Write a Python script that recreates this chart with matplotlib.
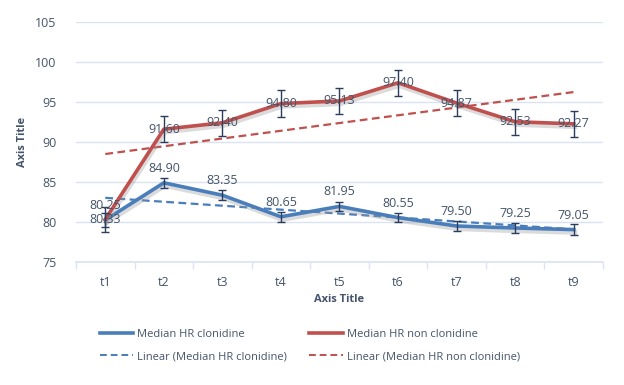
import numpy as np
import matplotlib
matplotlib.use("Agg")
import matplotlib.pyplot as plt
import matplotlib.patheffects as pe
from matplotlib.lines import Line2D

# data
times = ["t1", "t2", "t3", "t4", "t5", "t6", "t7", "t8", "t9"]
hr_clon = [80.25, 84.90, 83.35, 80.65, 81.95, 80.55, 79.50, 79.25, 79.05]
err_clon = [0.9, 0.6, 0.6, 0.6, 0.6, 0.6, 0.6, 0.6, 0.7]
hr_non = [80.33, 91.60, 92.40, 94.80, 95.13, 97.40, 94.87, 92.53, 92.27]
err_non = [1.6, 1.6, 1.6, 1.65, 1.6, 1.6, 1.6, 1.6, 1.6]

blue = "#4A7EBB"
red = "#C0504D"
txt = "#44546A"
grid = "#D9E3F2"
plt.rcParams["font.family"] = ["Open Sans", "DejaVu Sans"]

x = np.arange(len(times))

fig = plt.figure(figsize=(6.24, 3.85), dpi=100)
ax = fig.add_axes([0.1218, 0.3195, 0.8445, 0.6234])

shadow = [pe.SimpleLineShadow(offset=(0.8, -2.0), shadow_color="#9A9A9A", alpha=0.35, linewidth=3.5), pe.Normal()]

# main lines
ax.plot(x, hr_clon, color=blue, lw=2.6, zorder=4, path_effects=shadow, solid_joinstyle="round")
ax.plot(x, hr_non, color=red, lw=2.6, zorder=4, path_effects=shadow, solid_joinstyle="round")

# error bars
for y, e in [(hr_clon, err_clon), (hr_non, err_non)]:
    ax.errorbar(x, y, yerr=e, fmt="none", ecolor="#2B3D5C", elinewidth=1, capsize=3, capthick=1, zorder=6)

# linear trendlines
fit_c = np.polyval(np.polyfit(x, hr_clon, 1), x)
fit_n = np.polyval(np.polyfit(x, hr_non, 1), x)
ax.plot(x, fit_c, color=blue, lw=1.6, ls=(0, (3.5, 2)), zorder=3)
ax.plot(x, fit_n, color=red, lw=1.6, ls=(0, (3.5, 2)), zorder=3)

# data labels
for i in range(len(x)):
    ax.text(x[i], hr_clon[i] + 1.0, "%.2f" % hr_clon[i], ha="center", va="bottom", fontsize=9, color=txt, zorder=7)
    ax.text(x[i], hr_non[i], "%.2f" % hr_non[i], ha="center", va="center", fontsize=9, color=txt, zorder=7)

ax.set_xlim(-0.5, len(times) - 0.5)
ax.set_ylim(75, 105)
ax.set_yticks(range(75, 106, 5))
ax.set_xticks(x)
ax.set_xticklabels(times)
ax.set_xticks(np.arange(-0.5, len(times), 1), minor=True)
ax.tick_params(axis="x", which="major", length=0, pad=10, labelsize=9, labelcolor=txt)
ax.tick_params(axis="x", which="minor", length=5, color=grid, width=1)
ax.tick_params(axis="y", length=0, pad=14, labelsize=9, labelcolor=txt)
ax.yaxis.grid(True, color=grid, lw=1)
ax.set_axisbelow(True)
for s in ["top", "right", "left"]:
    ax.spines[s].set_visible(False)
ax.spines["bottom"].set_color(grid)
ax.spines["bottom"].set_linewidth(1.2)

ax.set_xlabel("Axis Title", fontsize=8, fontweight="bold", color=txt, labelpad=4)
ax.set_ylabel("Axis Title", fontsize=8, fontweight="bold", color=txt, labelpad=5)

handles = [Line2D([], [], color=blue, lw=2.6),
           Line2D([], [], color=blue, lw=1.4, ls=(0, (3.5, 2))),
           Line2D([], [], color=red, lw=2.6),
           Line2D([], [], color=red, lw=1.4, ls=(0, (3.5, 2)))]
fig.legend(handles,
           ["Median HR clonidine", "Linear (Median HR clonidine)",
            "Median HR non clonidine", "Linear (Median HR non clonidine)"],
           ncol=2, loc="upper left", bbox_to_anchor=(100 / 624, 1 - 329 / 385), frameon=False,
           borderpad=0, borderaxespad=0,
           fontsize=8, labelcolor=txt, handlelength=3.0, handletextpad=0.35,
           columnspacing=2.0, labelspacing=1.0)

fig.savefig("out.png", dpi=100)
